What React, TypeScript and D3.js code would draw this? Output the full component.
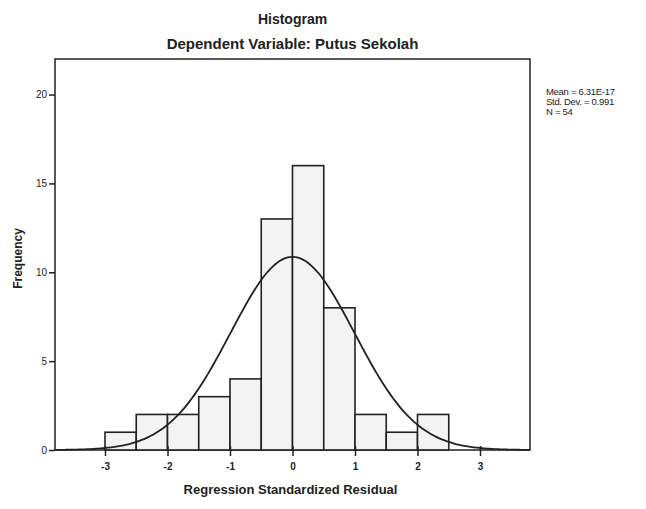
import { useEffect, useRef } from 'react';
import * as d3 from 'd3';

// histogram bins (lower edge, width 0.5) and their counts
const binStarts = [-3, -2.5, -2, -1.5, -1, -0.5, 0, 0.5, 1, 1.5, 2];
const counts = [1, 2, 2, 3, 4, 13, 16, 8, 2, 1, 2];
const binWidth = 0.5;

const xTicks = [-3, -2, -1, 0, 1, 2, 3];
const yTicks = [0, 5, 10, 15, 20];

// statistics printed beside the frame, also used for the normal curve
const mean = 6.31e-17;
const stdDev = 0.991;
const n = 54;
const statLines = ['Mean = 6.31E-17', 'Std. Dev. = 0.991', 'N = 54'];

function Histogram() {
  const svgRef = useRef(null);

  useEffect(() => {
    const svg = d3.select(svgRef.current);
    svg.selectAll('*').remove();

    const left = 55, right = 530, top = 59, bottom = 450;

    const x = d3.scaleLinear().domain([-3.8, 3.8]).range([left, right]);
    const y = d3.scaleLinear().domain([0, 22]).range([bottom, top]);

    const font = 'Arial, "Liberation Sans", sans-serif';

    svg.append('text')
      .attr('x', (left + right) / 2).attr('y', 24)
      .attr('text-anchor', 'middle')
      .attr('font-family', font).attr('font-size', 14).attr('font-weight', 'bold')
      .attr('fill', '#222')
      .text('Histogram');

    svg.append('text')
      .attr('x', (left + right) / 2).attr('y', 49)
      .attr('text-anchor', 'middle')
      .attr('font-family', font).attr('font-size', 15).attr('font-weight', 'bold')
      .attr('fill', '#222')
      .text('Dependent Variable: Putus Sekolah');

    // frame
    svg.append('rect')
      .attr('x', left).attr('y', top)
      .attr('width', right - left).attr('height', bottom - top)
      .attr('fill', 'none').attr('stroke', '#222').attr('stroke-width', 1.5);

    // bars
    svg.append('g')
      .selectAll('rect')
      .data(binStarts.map((s, i) => ({ s, c: counts[i] })))
      .join('rect')
      .attr('x', d => x(d.s))
      .attr('y', d => y(d.c))
      .attr('width', d => x(d.s + binWidth) - x(d.s))
      .attr('height', d => y(0) - y(d.c))
      .attr('fill', '#f3f3f3')
      .attr('stroke', '#222')
      .attr('stroke-width', 1.6);

    // normal curve
    const scale = n * binWidth;
    const pts = d3.range(-3.8, 3.801, 0.05).map(v => [
      v,
      (scale / (stdDev * Math.sqrt(2 * Math.PI))) * Math.exp(-0.5 * ((v - mean) / stdDev) ** 2),
    ]);
    svg.append('path')
      .datum(pts)
      .attr('d', d3.line<number[]>().x(d => x(d[0])).y(d => y(d[1])).curve(d3.curveBasis))
      .attr('fill', 'none').attr('stroke', '#222').attr('stroke-width', 1.8);

    // x axis
    const xAxis = svg.append('g')
      .attr('transform', `translate(0,${bottom})`)
      .call(d3.axisBottom(x).tickValues(xTicks).tickSize(6).tickFormat(d => String(d)));
    xAxis.select('.domain').remove();
    xAxis.selectAll('line').attr('stroke', '#222').attr('stroke-width', 1.5).attr('y1', -4);
    xAxis.selectAll('text')
      .attr('font-family', font).attr('font-size', 10).attr('font-weight', 'bold')
      .attr('fill', '#222').attr('dy', '1.1em');

    // y axis
    const yAxis = svg.append('g')
      .attr('transform', `translate(${left},0)`)
      .call(d3.axisLeft(y).tickValues(yTicks).tickSize(6));
    yAxis.select('.domain').remove();
    yAxis.selectAll('line').attr('stroke', '#222').attr('stroke-width', 1.5);
    yAxis.selectAll('text')
      .attr('font-family', font).attr('font-size', 10)
      .attr('fill', '#222').attr('x', -8);

    svg.append('text')
      .attr('transform', `translate(22,${(top + bottom) / 2 + 4}) rotate(-90)`)
      .attr('text-anchor', 'middle')
      .attr('font-family', font).attr('font-size', 12).attr('font-weight', 'bold')
      .attr('fill', '#222')
      .text('Frequency');

    svg.append('text')
      .attr('x', (left + right) / 2 - 2).attr('y', 494)
      .attr('text-anchor', 'middle')
      .attr('font-family', font).attr('font-size', 13).attr('font-weight', 'bold')
      .attr('fill', '#222')
      .text('Regression Standardized Residual');

    svg.append('g')
      .selectAll('text')
      .data(statLines)
      .join('text')
      .attr('x', 546)
      .attr('y', (_, i) => 95 + i * 10)
      .attr('font-family', font).attr('font-size', 9.5)
      .attr('letter-spacing', -0.3)
      .attr('fill', '#222')
      .text(d => d);
  }, []);

  return <svg ref={svgRef} width={646} height={509} style={{ display: 'block' }} />;
}

export default function App() {
  return (
    <div style={{ margin: -8, background: '#fff' }}>
      <Histogram />
    </div>
  );
}
